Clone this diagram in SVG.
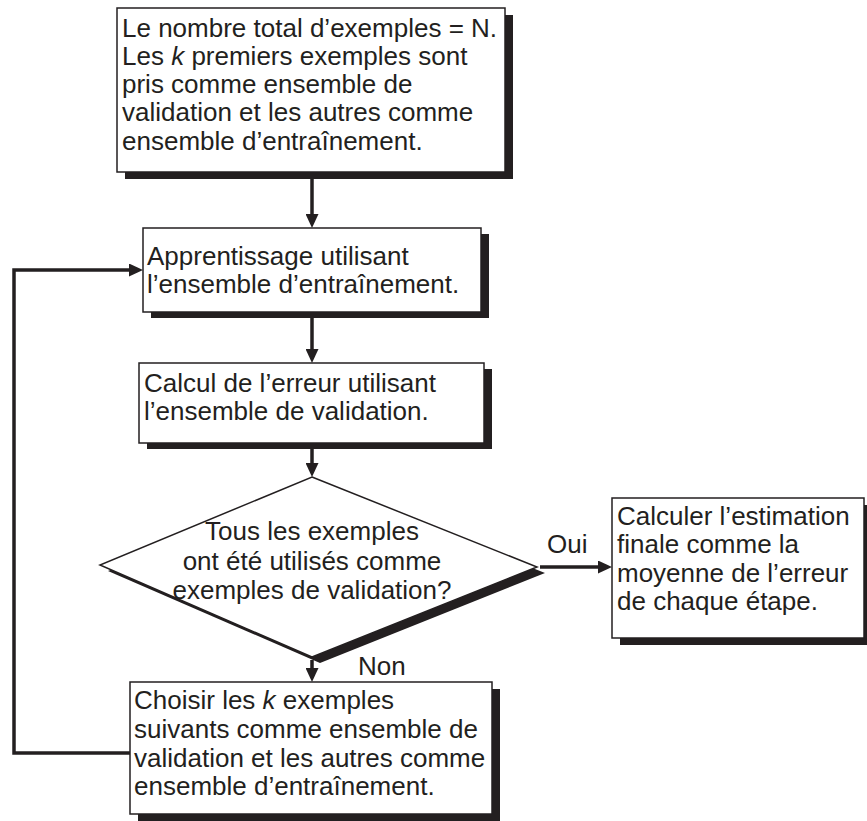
<svg xmlns="http://www.w3.org/2000/svg" width="867" height="821" viewBox="0 0 867 821">
<defs>
<style>
.box{fill:#ffffff;stroke:#231f20;stroke-width:1.5}
.shadow{fill:#231f20;stroke:none}
.t{font-family:"Liberation Sans",Arial,sans-serif;font-size:26px;fill:#231f20}
.c{text-anchor:middle}
.conn{fill:none;stroke:#231f20;stroke-width:3.5}
</style>
<marker id="arr" viewBox="0 0 14 13" refX="6" refY="6.5" markerWidth="14" markerHeight="13" markerUnits="userSpaceOnUse" orient="auto">
<path d="M0,0 L14,6.5 L0,13 z" fill="#231f20"/>
</marker>
</defs>
<rect width="867" height="821" fill="#ffffff"/>

<g id="connectors">
<line class="conn" x1="312" y1="178" x2="312" y2="220" marker-end="url(#arr)"/>
<line class="conn" x1="312" y1="316" x2="312" y2="355" marker-end="url(#arr)"/>
<line class="conn" x1="312" y1="447" x2="312" y2="469" marker-end="url(#arr)"/>
<line class="conn" x1="540" y1="567" x2="604" y2="567" marker-end="url(#arr)"/>
<line class="conn" x1="312" y1="660" x2="312" y2="674" marker-end="url(#arr)"/>
<polyline class="conn" points="130,753 14,753 14,270 135,270" marker-end="url(#arr)"/>
</g>

<g id="start">
<rect class="shadow" x="125" y="15" width="388" height="164"/>
<rect class="box" x="117" y="8" width="388" height="164"/>
<text class="t" x="122" y="37">Le nombre total d’exemples = N.</text>
<text class="t" x="122" y="65">Les <tspan font-style="italic">k</tspan> premiers exemples sont</text>
<text class="t" x="122" y="93">pris comme ensemble de</text>
<text class="t" x="122" y="121">validation et les autres comme</text>
<text class="t" x="122" y="150">ensemble d’entraînement.</text>
</g>

<g id="train">
<rect class="shadow" x="151" y="234" width="338" height="84"/>
<rect class="box" x="143" y="228" width="338" height="84"/>
<text class="t" x="147" y="265">Apprentissage utilisant</text>
<text class="t" x="147" y="293">l’ensemble d’entraînement.</text>
</g>

<g id="error">
<rect class="shadow" x="147" y="369" width="345" height="80"/>
<rect class="box" x="139" y="363" width="345" height="80"/>
<text class="t" x="144" y="392">Calcul de l’erreur utilisant</text>
<text class="t" x="144" y="420">l’ensemble de validation.</text>
</g>

<g id="decision">
<polygon class="shadow" points="320,483 545,573 320,663 108,571"/>
<polygon class="box" points="312,477 537,567 312,657 100,565"/>
<text class="t c" x="312" y="540">Tous les exemples</text>
<text class="t c" x="312" y="570">ont été utilisés comme</text>
<text class="t c" x="312" y="599">exemples de validation?</text>
</g>

<g id="final">
<rect class="shadow" x="620" y="505" width="252" height="140"/>
<rect class="box" x="612" y="498" width="252" height="140"/>
<text class="t" x="617" y="525">Calculer l’estimation</text>
<text class="t" x="617" y="553">finale comme la</text>
<text class="t" x="617" y="582">moyenne de l’erreur</text>
<text class="t" x="617" y="610">de chaque étape.</text>
</g>

<g id="next">
<rect class="shadow" x="138" y="689" width="362" height="132"/>
<rect class="box" x="130" y="682" width="362" height="132"/>
<text class="t" x="134" y="709">Choisir les <tspan font-style="italic">k</tspan> exemples</text>
<text class="t" x="134" y="738">suivants comme ensemble de</text>
<text class="t" x="134" y="767">validation et les autres comme</text>
<text class="t" x="134" y="795">ensemble d’entraînement.</text>
</g>

<g id="labels">
<text class="t" x="547" y="553">Oui</text>
<text class="t" x="358" y="675">Non</text>
</g>
</svg>
